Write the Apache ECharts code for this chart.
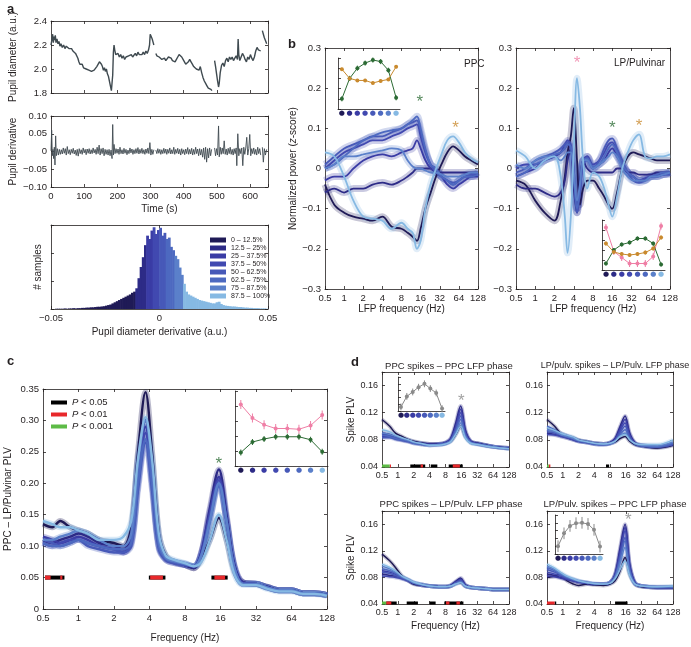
<!DOCTYPE html>
<html>
<head>
<meta charset="utf-8">
<script src="https://cdn.jsdelivr.net/npm/echarts@6/dist/echarts.min.js"></script>
<style>html,body{margin:0;padding:0;background:#fff}#main{width:691px;height:647px}</style>
</head>
<body>
<div id="main"></div>
<script>
// ---- colours (8 pupil-derivative octiles, dark -> light)
const blues = ['#1f1a56', '#2d2b87', '#3a3ca5', '#4149b0', '#4759b8', '#4d69c0', '#5b80ca', '#86b9e3'];
const octileNames = ['0 – 12.5%', '12.5 – 25%', '25 – 37.5%', '37.5 – 50%', '50 – 62.5%', '62.5 – 75%', '75 – 87.5%', '87.5 – 100%'];
const GREEN = '#2c6b34', ORANGE = '#c98a2e', PINK = '#ef7fa6', GRAY = '#8a8a8a';

// ---- panel a : pupil trace (time s, diameter a.u.), '-' = gap
const pupilTrace = [[0,2.20],[3,2.25],[5,2.29],[7,2.22],[9,2.27],[11,2.24],[13,2.28],[15,2.22],[18,2.25],[21,2.21],[24,2.23],[27,2.19],[30,2.21],[34,2.18],[38,2.20],[42,2.17],[46,2.19],[50,2.20],[54,2.17],[58,2.16],[62,2.17],[66,2.15],[70,2.14],[74,2.13],[78,2.12],[81,2.09],[84,2.06],[87,2.04],[90,2.03],[94,2.04],[98,2.01],[102,2.02],[106,2.00],[110,2.01],[114,1.99],[118,2.00],[122,1.98],[126,1.97],[130,1.99],[134,1.98],[138,2.02],[142,2.03],[146,2.06],[149,2.07],[152,2.04],[155,2.02],[158,1.99],[161,2.01],[164,1.98],[167,2.00],[170,1.96],[173,1.94],[176,1.90],[179,1.86],[182,1.82],[184,1.81],[186,1.95],[188,2.14],[190,2.20],[192,2.16],[195,2.12],[198,2.11],[202,2.13],[206,2.10],[210,2.12],[214,2.09],[218,2.11],[222,2.08],[226,2.10],[230,2.09],[234,2.11],[238,2.10],[242,2.12],[246,2.10],[250,2.11],[254,2.13],[258,2.11],[262,2.14],[266,2.12],[270,2.13],[274,2.12],[278,2.14],[282,2.12],[286,2.15],[290,2.13],[294,2.16],[297,2.20],[299,2.29],[302,2.27],[305,2.25],[308,2.22],[310,2.20],[312,'-'],[316,2.13],[319,2.11],[322,2.12],[326,2.10],[330,2.11],[334,2.08],[338,2.07],[342,2.09],[346,2.07],[350,2.08],[354,2.10],[358,2.11],[362,2.09],[366,2.07],[370,2.08],[374,2.06],[378,2.08],[382,2.10],[386,2.12],[390,2.13],[394,2.10],[398,2.08],[402,2.07],[406,2.04],[410,2.03],[414,2.06],[418,2.08],[422,2.06],[426,2.04],[430,2.02],[434,2.03],[438,2.00],[442,2.01],[446,1.99],[450,2.02],[454,1.97],[458,1.93],[462,1.90],[466,1.88],[470,1.86],[474,1.84],[478,1.83],[482,1.83],[485,1.82],[487,'-'],[493,2.07],[496,2.02],[499,1.96],[502,1.90],[505,1.85],[507,1.88],[510,1.97],[514,2.03],[518,2.05],[522,2.02],[526,2.07],[530,2.09],[534,2.06],[538,2.10],[542,2.08],[546,2.10],[550,2.07],[554,2.09],[558,2.11],[562,2.08],[564,2.25],[566,2.12],[569,2.07],[573,2.10],[577,2.13],[581,2.11],[585,2.08],[589,2.06],[593,2.10],[597,2.08],[601,2.12],[605,2.09],[609,2.07],[613,2.10],[617,2.15],[621,2.18],[625,2.16],[629,2.17],[632,2.15],[634,'-'],[637,2.32],[640,2.29],[643,2.26],[646,2.24],[650,2.21]];

const pupilDeriv = [[0,0.002],[2,0.06],[4,-0.012],[6,0.006],[8,-0.02],[10,0.012],[12,-0.038],[14,0.044],[16,-0.012],[19,0.008],[22,-0.01],[25,0.006],[28,-0.008],[31,0.005],[34,-0.007],[37,0.01],[40,-0.005],[43,0.008],[46,-0.01],[49,0.014],[52,-0.006],[55,0.005],[58,-0.009],[61,0.006],[64,-0.005],[67,0.009],[70,-0.007],[73,0.004],[76,-0.011],[79,0.006],[82,-0.013],[85,0.008],[88,-0.006],[91,0.005],[94,-0.008],[97,0.01],[100,-0.004],[103,0.006],[106,-0.009],[109,0.007],[112,-0.005],[115,0.008],[118,-0.007],[121,0.005],[124,-0.006],[127,0.01],[130,-0.004],[133,0.006],[136,-0.008],[139,0.012],[142,-0.006],[145,0.018],[148,-0.01],[151,0.008],[154,-0.006],[157,0.01],[160,-0.012],[163,0.006],[166,-0.008],[169,0.005],[172,-0.01],[175,0.006],[178,-0.012],[181,0.004],[184,-0.02],[186,0.076],[188,-0.01],[190,0.02],[193,-0.006],[196,0.008],[199,-0.005],[202,0.007],[205,-0.008],[208,0.012],[211,-0.006],[214,0.005],[217,-0.007],[220,0.009],[223,-0.005],[226,0.006],[229,-0.009],[232,0.004],[235,-0.006],[238,0.01],[241,-0.004],[244,0.007],[247,-0.008],[250,0.005],[253,-0.006],[256,0.008],[259,-0.005],[262,0.011],[265,-0.007],[268,0.006],[271,-0.005],[274,0.009],[277,-0.006],[280,0.005],[283,-0.008],[286,0.007],[289,-0.005],[292,0.01],[295,-0.006],[298,0.025],[301,-0.01],[304,0.006],[307,-0.008],[310,0.005],[313,'-'],[316,0.004],[319,-0.006],[322,0.008],[325,-0.005],[328,0.006],[331,-0.008],[334,0.005],[337,-0.006],[340,0.009],[343,-0.005],[346,0.007],[349,-0.008],[352,0.006],[355,-0.005],[358,0.01],[361,-0.007],[364,0.005],[367,-0.006],[370,0.012],[373,-0.008],[376,0.006],[379,-0.005],[382,0.009],[385,-0.007],[388,0.006],[391,-0.01],[394,0.008],[397,-0.006],[400,0.005],[403,-0.009],[406,0.007],[409,-0.006],[412,0.011],[415,-0.008],[418,0.006],[421,-0.007],[424,0.009],[427,-0.01],[430,0.006],[433,-0.008],[436,0.012],[439,-0.006],[442,0.007],[445,-0.012],[448,0.008],[451,-0.01],[454,0.006],[457,-0.016],[460,0.01],[463,-0.022],[466,0.012],[469,-0.03],[472,0.008],[475,-0.018],[478,0.01],[481,-0.012],[484,0.006],[487,'-'],[493,0.01],[496,-0.012],[499,0.008],[502,-0.01],[505,0.072],[507,-0.015],[510,0.012],[513,-0.008],[516,0.01],[519,-0.006],[522,0.03],[525,-0.008],[528,0.007],[531,-0.01],[534,0.009],[537,-0.006],[540,0.012],[543,-0.008],[546,0.006],[549,-0.01],[552,0.008],[555,-0.006],[558,0.01],[560,-0.04],[563,0.05],[566,-0.012],[569,0.008],[572,-0.006],[575,0.01],[578,-0.04],[581,0.012],[584,-0.008],[587,0.01],[590,0.04],[593,-0.01],[596,0.008],[599,0.048],[602,-0.012],[605,0.008],[608,-0.006],[611,0.01],[614,-0.008],[617,0.006],[620,-0.01],[623,0.012],[626,-0.006],[629,0.008],[632,-0.01],[634,'-'],[637,0.012],[640,-0.03],[643,0.008],[646,-0.01],[650,0.006]];

// histogram of pupil derivative: 100 bins of 0.001 starting at -0.05
const histStart = -0.05, histStep = 0.001;
const histCounts = [0,0,1,1,1,1,2,1,2,2,3,2,3,3,4, 4,5,5,6,6,7,8,8,9,10, 12,14,16,20,24,28,32,36, 40,44,48,52,58,62,
  74,110,150,185,228,262,250,280,292,268,282,290,262,272,250,255,222,210,190,178,148,122,
  90,62,52,48,44,40,36,32,30,28,26,24,22,20,20,24,26,18,
  14,12,11,10,9,9,8,7,7,6,5,5,4,4,3,3,3,2,2,2,1];
const octileEdges = [-0.0109, -0.0061, -0.003, -0.0002, 0.0032, 0.007, 0.0113];

// ---- panel b : normalized LFP power (z-score)
const freqPPC = [0.5,0.7,1,1.4,2,2.8,4,5.6,8,10,12,14,16,19,23,28,34,42,52,64,80,100,128];
const powPPC = [
  [-0.04,-0.09,-0.11,-0.12,-0.125,-0.13,-0.12,-0.145,-0.15,-0.16,-0.17,-0.18,-0.15,-0.1,-0.06,-0.02,0.01,0.04,0.055,0.045,0.03,0.02,0.01],
  [-0.06,-0.05,-0.06,-0.05,-0.05,-0.04,-0.035,-0.04,-0.03,-0.02,-0.01,0,0,0,0,-0.01,-0.01,-0.01,-0.01,-0.01,-0.01,-0.01,-0.01],
  [-0.03,-0.02,-0.02,0.0,0.02,0.03,0.035,0.03,0.04,0.045,0.05,0.07,0.05,0.02,0.0,-0.01,-0.02,-0.04,-0.05,-0.04,-0.03,-0.02,-0.02],
  [0.0,0.02,0.04,0.05,0.06,0.07,0.07,0.08,0.09,0.1,0.105,0.11,0.08,0.04,0.01,0.0,-0.02,-0.03,-0.04,-0.03,-0.02,-0.02,-0.01],
  [0.01,0.03,0.05,0.06,0.07,0.08,0.08,0.09,0.1,0.11,0.115,0.12,0.09,0.045,0.01,-0.01,-0.02,-0.03,-0.035,-0.03,-0.02,-0.015,-0.01],
  [0.0,0.01,0.03,0.05,0.07,0.08,0.09,0.095,0.1,0.11,0.12,0.13,0.1,0.05,0.01,0.0,-0.02,-0.03,-0.04,-0.03,-0.02,-0.02,-0.015],
  [0.0,0.01,0.03,0.03,0.035,0.04,0.045,0.05,0.045,0.02,0.005,0.0,0.0,-0.005,-0.01,-0.01,-0.015,-0.02,-0.02,-0.02,-0.015,-0.01,-0.01],
  [0.04,0.03,-0.02,-0.08,-0.12,-0.125,-0.13,-0.15,-0.135,-0.15,-0.16,-0.2,-0.18,-0.1,-0.04,0.0,0.035,0.07,0.08,0.065,0.04,0.025,0.015]
];
const freqLP = [0.5,0.7,1,1.4,2,2.5,2.9,3.2,3.6,4,4.5,5,5.6,6.5,8,10,12,14,16,19,23,28,34,42,52,64,80,100,128];
const powLP = [
  [-0.03,-0.04,-0.08,-0.11,-0.13,-0.08,-0.02,0.04,0.08,0.15,0.02,-0.09,-0.05,-0.03,-0.03,-0.05,-0.07,-0.09,-0.1,-0.06,0.0,0.03,0.04,0.035,0.03,0.025,0.02,0.02,0.02],
  [-0.04,-0.05,-0.05,-0.06,-0.07,-0.06,-0.03,0.02,0.05,-0.05,-0.11,-0.03,0.02,0.0,-0.01,-0.01,-0.01,-0.01,-0.01,0.0,0.0,-0.01,-0.01,-0.015,-0.015,-0.015,-0.01,-0.01,-0.01],
  [-0.02,-0.01,0.0,0.02,0.03,0.04,0.05,0.06,0.05,-0.02,-0.1,-0.06,0.02,0.03,0.0,0.01,0.02,0.04,0.05,0.03,0.01,-0.01,-0.02,-0.03,-0.025,-0.02,-0.015,-0.015,-0.01],
  [0.0,0.01,0.01,0.02,0.03,0.04,0.06,0.07,0.06,0.0,-0.1,-0.05,0.02,0.03,0.01,0.02,0.04,0.06,0.065,0.04,0.01,-0.01,-0.02,-0.03,-0.025,-0.02,-0.02,-0.015,-0.01],
  [-0.01,0.0,0.02,0.03,0.04,0.05,0.06,0.065,0.05,-0.02,-0.11,-0.06,0.01,0.02,0.0,0.02,0.05,0.07,0.075,0.05,0.02,-0.01,-0.03,-0.035,-0.03,-0.02,-0.02,-0.015,-0.015],
  [-0.02,-0.01,0.01,0.02,0.035,0.04,0.05,0.06,0.055,-0.01,-0.1,-0.05,0.02,0.025,0.005,0.01,0.03,0.05,0.06,0.04,0.01,-0.01,-0.02,-0.03,-0.03,-0.02,-0.015,-0.01,-0.01],
  [0.01,0.0,0.02,0.03,0.03,0.02,0.03,0.04,0.04,-0.01,-0.08,-0.04,0.02,0.02,0.0,0.01,0.02,0.03,0.04,0.03,0.0,-0.02,-0.03,-0.03,-0.03,-0.02,-0.02,-0.015,-0.01],
  [0.045,0.03,0.0,0.02,0.03,-0.02,-0.12,-0.21,-0.12,0.05,0.225,0.15,0.02,-0.05,-0.01,-0.02,-0.05,-0.09,-0.12,-0.07,0.0,0.04,0.07,0.085,0.03,0.025,0.03,0.03,0.035]
];
// inset values (relative units) and error bars
const insPPCGreen = [0.2,0.6,0.8,0.9,0.96,0.93,0.76,0.22];
const insPPCOrange = [0.78,0.6,0.56,0.56,0.51,0.55,0.58,0.83];
const insLPPink = [0.85,0.37,0.25,0.13,0.13,0.13,0.27,0.88];
const insLPGreen = [0.13,0.4,0.51,0.55,0.63,0.63,0.53,0.11];
const insLPOrange = [0.53,0.36,0.32,0.3,0.32,0.35,0.43,0.65];
const starsPPC = {green: [[15.5, 0.175]], orange: [[57, 0.11]]};
const starsLP = {pink: [[4.5, 0.272]], green: [[16, 0.11]], orange: [[42, 0.115]]};

// ---- panel c : PPC - LP/Pulvinar PLV
const freqC = [0.5,0.6,0.7,0.85,1,1.2,1.5,2,2.4,2.8,3.2,3.7,4.2,4.8,5.5,6.5,8,9.5,11,13,15.5,18,21,25,32,40,50,64,80,100,128];
const plvC = [
  [0.135,0.13,0.14,0.13,0.125,0.12,0.11,0.105,0.1,0.13,0.25,0.345,0.25,0.12,0.085,0.075,0.07,0.065,0.08,0.11,0.145,0.11,0.06,0.042,0.04,0.035,0.03,0.03,0.025,0.025,0.022],
  [0.11,0.105,0.11,0.115,0.12,0.115,0.105,0.1,0.095,0.12,0.24,0.3,0.22,0.11,0.08,0.075,0.07,0.065,0.09,0.16,0.222,0.15,0.07,0.042,0.04,0.035,0.03,0.03,0.025,0.025,0.022],
  [0.115,0.11,0.105,0.11,0.115,0.11,0.1,0.095,0.09,0.11,0.22,0.29,0.21,0.1,0.08,0.075,0.07,0.068,0.09,0.155,0.21,0.145,0.068,0.042,0.04,0.035,0.03,0.03,0.025,0.025,0.022],
  [0.105,0.1,0.105,0.11,0.11,0.105,0.1,0.095,0.09,0.105,0.2,0.28,0.2,0.1,0.078,0.073,0.07,0.068,0.088,0.15,0.205,0.14,0.065,0.04,0.04,0.034,0.03,0.03,0.025,0.025,0.022],
  [0.11,0.105,0.1,0.105,0.11,0.1,0.095,0.09,0.09,0.1,0.19,0.265,0.19,0.095,0.078,0.073,0.07,0.068,0.085,0.145,0.2,0.14,0.065,0.04,0.04,0.034,0.03,0.03,0.025,0.025,0.022],
  [0.105,0.1,0.1,0.105,0.11,0.105,0.1,0.095,0.095,0.105,0.2,0.27,0.2,0.1,0.08,0.075,0.072,0.068,0.085,0.14,0.195,0.14,0.065,0.04,0.04,0.034,0.03,0.03,0.025,0.025,0.022],
  [0.11,0.11,0.115,0.12,0.125,0.12,0.11,0.1,0.1,0.12,0.23,0.3,0.23,0.11,0.082,0.076,0.072,0.068,0.085,0.14,0.2,0.14,0.065,0.04,0.04,0.034,0.03,0.03,0.025,0.025,0.022],
  [0.14,0.135,0.13,0.13,0.125,0.12,0.11,0.11,0.115,0.14,0.24,0.305,0.24,0.12,0.085,0.078,0.073,0.068,0.075,0.11,0.15,0.11,0.055,0.038,0.038,0.032,0.028,0.028,0.024,0.024,0.021]
];
const sigC = {black: [[0.52,0.76],[3.95,5.46],[13.4,18.4]], red: [[0.52,0.58],[0.70,0.73],[4.05,5.2],[14.2,17.5]]};
const insCPink = [0.82,0.64,0.55,0.5,0.5,0.49,0.54,0.68];
const insCGreen = [0.18,0.32,0.36,0.39,0.39,0.39,0.35,0.19];
const starsC = {pink: [[3.7, 0.375]], green: [[15.5, 0.237]]};

// ---- panel d : spike PLV
const freqD = [0.5,0.7,0.9,1.2,1.6,2,3,4,6,8,10,12.5,15.5,19,24,32,64,128];
const plvD1 = [
  [0.11,0.1,0.09,0.085,0.08,0.078,0.075,0.074,0.074,0.075,0.078,0.088,0.1,0.085,0.077,0.075,0.07,0.068],
  [0.09,0.088,0.085,0.082,0.08,0.077,0.075,0.074,0.074,0.076,0.082,0.105,0.13,0.095,0.078,0.075,0.07,0.068],
  [0.088,0.087,0.084,0.08,0.078,0.076,0.074,0.073,0.074,0.076,0.081,0.1,0.125,0.092,0.078,0.075,0.07,0.068],
  [0.085,0.085,0.082,0.08,0.078,0.076,0.074,0.073,0.073,0.075,0.08,0.098,0.12,0.09,0.077,0.074,0.07,0.068],
  [0.083,0.083,0.081,0.079,0.077,0.075,0.073,0.072,0.073,0.075,0.079,0.095,0.115,0.088,0.077,0.074,0.07,0.067],
  [0.087,0.085,0.082,0.08,0.078,0.075,0.073,0.072,0.073,0.075,0.079,0.093,0.11,0.087,0.076,0.074,0.07,0.067],
  [0.09,0.088,0.085,0.082,0.079,0.076,0.074,0.072,0.073,0.074,0.078,0.09,0.105,0.085,0.076,0.074,0.07,0.067],
  [0.095,0.092,0.087,0.083,0.08,0.077,0.074,0.072,0.072,0.074,0.077,0.088,0.1,0.083,0.075,0.073,0.069,0.067]
];
const plvD2 = [
  [0.11,0.1,0.09,0.086,0.083,0.08,0.077,0.075,0.074,0.075,0.077,0.082,0.085,0.078,0.073,0.071,0.068,0.072],
  [0.09,0.088,0.086,0.083,0.08,0.078,0.076,0.075,0.074,0.076,0.082,0.1,0.115,0.09,0.076,0.072,0.07,0.074],
  [0.095,0.092,0.088,0.085,0.082,0.079,0.077,0.075,0.074,0.076,0.081,0.097,0.11,0.088,0.075,0.072,0.07,0.074],
  [0.088,0.087,0.085,0.083,0.08,0.078,0.076,0.074,0.073,0.075,0.08,0.094,0.105,0.086,0.075,0.072,0.069,0.073],
  [0.092,0.09,0.087,0.084,0.081,0.078,0.076,0.074,0.073,0.075,0.079,0.091,0.1,0.084,0.074,0.071,0.069,0.073],
  [0.1,0.095,0.09,0.086,0.082,0.079,0.076,0.074,0.073,0.074,0.078,0.088,0.095,0.082,0.074,0.071,0.07,0.075],
  [0.095,0.092,0.088,0.085,0.082,0.079,0.077,0.075,0.074,0.075,0.078,0.086,0.09,0.081,0.074,0.072,0.071,0.077],
  [0.098,0.094,0.09,0.087,0.084,0.08,0.077,0.075,0.074,0.075,0.078,0.085,0.088,0.08,0.075,0.073,0.073,0.08]
];
const plvD3 = [
  [0.115,0.105,0.095,0.082,0.075,0.07,0.068,0.067,0.066,0.066,0.067,0.071,0.072,0.067,0.065,0.064,0.062,0.062],
  [0.085,0.083,0.082,0.079,0.075,0.071,0.068,0.067,0.066,0.066,0.068,0.074,0.079,0.069,0.065,0.064,0.062,0.062],
  [0.09,0.088,0.085,0.08,0.076,0.072,0.069,0.067,0.066,0.066,0.068,0.073,0.077,0.068,0.065,0.064,0.062,0.062],
  [0.082,0.081,0.08,0.078,0.075,0.071,0.068,0.067,0.066,0.066,0.067,0.072,0.076,0.068,0.065,0.064,0.062,0.062],
  [0.088,0.086,0.083,0.079,0.075,0.071,0.068,0.067,0.066,0.066,0.067,0.072,0.075,0.067,0.065,0.064,0.062,0.062],
  [0.093,0.09,0.086,0.08,0.076,0.072,0.069,0.067,0.066,0.066,0.067,0.071,0.074,0.067,0.065,0.064,0.062,0.062],
  [0.097,0.093,0.088,0.081,0.076,0.072,0.069,0.067,0.066,0.066,0.067,0.07,0.073,0.067,0.065,0.064,0.062,0.062],
  [0.1,0.095,0.09,0.082,0.077,0.073,0.069,0.067,0.066,0.066,0.067,0.07,0.072,0.067,0.065,0.064,0.062,0.062]
];
const plvD4 = [
  [0.08,0.082,0.085,0.075,0.07,0.068,0.07,0.069,0.068,0.07,0.075,0.09,0.11,0.085,0.07,0.066,0.065,0.065],
  [0.085,0.083,0.08,0.077,0.075,0.073,0.071,0.07,0.07,0.072,0.085,0.125,0.16,0.1,0.072,0.067,0.065,0.065],
  [0.082,0.081,0.079,0.077,0.075,0.073,0.071,0.07,0.07,0.072,0.084,0.12,0.155,0.098,0.072,0.067,0.065,0.065],
  [0.088,0.085,0.082,0.078,0.075,0.073,0.071,0.07,0.07,0.072,0.083,0.117,0.15,0.096,0.071,0.067,0.065,0.065],
  [0.092,0.088,0.084,0.079,0.076,0.074,0.072,0.07,0.07,0.072,0.082,0.112,0.14,0.093,0.071,0.067,0.065,0.065],
  [0.095,0.09,0.085,0.08,0.077,0.074,0.072,0.07,0.07,0.072,0.081,0.108,0.135,0.09,0.071,0.067,0.065,0.066],
  [0.097,0.092,0.086,0.081,0.077,0.075,0.072,0.071,0.07,0.072,0.08,0.102,0.125,0.088,0.07,0.067,0.066,0.066],
  [0.1,0.094,0.088,0.082,0.078,0.075,0.072,0.071,0.07,0.071,0.078,0.092,0.105,0.083,0.07,0.067,0.066,0.067]
];
const sigD1 = {green: [[0.5,0.7]], red: [[0.7,0.74],[2.7,3.0],[11,15]], black: [[1.72,3.3],[4.2,5.6],[9.2,17]]};
const sigD2 = {green: [[0.5,0.54]], red: [[0.54,0.58]], black: [[6.7,7.7]]};
const sigD3 = {green: [[0.5,0.6]], red: [[0.6,0.75],[8.2,9.5],[12.9,15]], black: [[0.6,0.95],[1.47,2.4],[4.0,5.2],[7.6,17.5]]};
const sigD4 = {red: [[0.5,0.7]], black: [[0.7,0.75],[10,17.3]]};
const insD1 = [0.12,0.43,0.56,0.7,0.8,0.66,0.53,0.07];
const insD4 = [0.2,0.53,0.72,0.79,0.8,0.77,0.62,0.19];
const starsD = {d1: [[16, 0.142]], d4: [[18, 0.172]]};

// ---------------------------------------------------------------
const FONT = '"Liberation Sans", Arial, sans-serif';
const INK = '#231f20';
const grid = [], xAxis = [], yAxis = [], series = [];

function signed(dec) {
  return v => Math.abs(v) < 1e-9 ? '0' : (v < 0 ? '−' : '') + Math.abs(v).toFixed(dec);
}
function stepOnly(step, f) {
  return v => Math.abs(v / step - Math.round(v / step)) < 1e-6 ? f(v) : '';
}
const logFmt = v => String(+(+v).toPrecision(3));
const dotRich = {};
blues.forEach((c, i) => { dotRich['d' + i] = {color: c, fontSize: 7, fontFamily: 'DejaVu Sans'}; });
const dotFmt = (v, i) => '{d' + i + '|●}';

function mkAxis(gi, pos, o, primary) {
  return {
    gridIndex: gi, position: pos, type: o.type || 'value',
    min: o.min, max: o.max, interval: o.interval, logBase: o.logBase, splitNumber: o.splitNumber,
    data: o.data, boundaryGap: o.boundaryGap,
    axisLine: {show: true, onZero: false, lineStyle: {color: INK, width: 0.8}},
    axisTick: {show: o.ticks !== false, inside: true, length: 3, lineStyle: {color: INK, width: 0.8}},
    axisLabel: {show: primary && o.labels !== false, formatter: o.fmt, fontFamily: FONT, interval: o.labelInterval,
      fontSize: o.fs || 9.5, color: INK, margin: o.margin || 4, rich: o.rich},
    splitLine: {show: false},
    name: primary ? o.name : '', nameLocation: 'middle', nameGap: o.nameGap || 20,
    nameTextStyle: {fontFamily: FONT, fontSize: 10, color: INK, rich: o.nameRich},
    silent: true
  };
}
function addFrame(rect, xo, yo, mirror) {
  const gi = grid.length;
  grid.push({left: rect[0], top: rect[1], width: rect[2], height: rect[3]});
  const xi = xAxis.length, yi = yAxis.length;
  xAxis.push(mkAxis(gi, 'bottom', xo, true));
  yAxis.push(mkAxis(gi, 'left', yo, true));
  if (mirror !== false) {
    xAxis.push(mkAxis(gi, 'top', xo, false));
    yAxis.push(mkAxis(gi, 'right', yo, false));
  }
  return {xi, yi};
}
function logX(labels, name, gap, fs) {
  return {type: 'log', logBase: 2, min: 0.5, max: 128, splitNumber: 8, fmt: logFmt, labels, name, nameGap: gap, fs};
}
function lineS(f, xs, ys, color, w, extra) {
  return Object.assign({
    type: 'line', xAxisIndex: f.xi, yAxisIndex: f.yi, data: xs.map((x, i) => [x, ys[i]]),
    showSymbol: false, smooth: 0.35, connectNulls: false, lineStyle: {color, width: w}, itemStyle: {color},
    silent: true, z: 3
  }, extra || {});
}
function bandS(f, xs, ys, color, w, op) {
  return lineS(f, xs, ys, color, w, {lineStyle: {color, width: w, opacity: op}, z: 2});
}
function starS(f, pts, color) {
  return {type: 'scatter', xAxisIndex: f.xi, yAxisIndex: f.yi, data: pts, symbol: 'circle', symbolSize: 1,
    itemStyle: {color: 'rgba(0,0,0,0)'}, silent: true, z: 6,
    label: {show: true, position: 'inside', formatter: '*', color, fontSize: 17, fontFamily: FONT, offset: [0, 4]}};
}
function sigS(f, name, color, ivals, y, h) {
  return {type: 'custom', name, xAxisIndex: f.xi, yAxisIndex: f.yi, itemStyle: {color}, clip: false, z: 5,
    data: ivals.map(iv => [iv[0], iv[1], y]), encode: {x: [0, 1], y: 2},
    renderItem: (p, api) => {
      const a = api.coord([api.value(0), api.value(2)]);
      const b = api.coord([api.value(1), api.value(2)]);
      return {type: 'rect', shape: {x: a[0], y: a[1] - h / 2, width: b[0] - a[0], height: h}, style: {fill: color}};
    }};
}
function errS(f, vals, err, color) {
  return {type: 'custom', xAxisIndex: f.xi, yAxisIndex: f.yi, z: 6, silent: true,
    data: vals.map((v, i) => [i, v, err]), encode: {x: 0, y: 1},
    renderItem: (p, api) => {
      const t = api.coord([api.value(0), api.value(1) + api.value(2)]);
      const b = api.coord([api.value(0), api.value(1) - api.value(2)]);
      return {type: 'line', shape: {x1: t[0], y1: t[1], x2: b[0], y2: b[1]}, style: {stroke: color, lineWidth: 1}};
    }};
}
function insetS(f, vals, color) {
  return {type: 'line', xAxisIndex: f.xi, yAxisIndex: f.yi, data: vals, symbol: 'circle', symbolSize: 4,
    lineStyle: {color, width: 1}, itemStyle: {color}, silent: true, z: 7};
}
const insetX = {type: 'category', data: ['1', '2', '3', '4', '5', '6', '7', '8'], boundaryGap: true, ticks: false,
  fmt: dotFmt, rich: dotRich, margin: 1, labelInterval: 0, fs: 7};
const insetY = {min: 0, max: 1, interval: 0.2, labels: false};

// ---- panel a
const a1 = addFrame([51, 21, 217, 72],
  {min: 0, max: 654, interval: 100, labels: false},
  {min: 1.8, max: 2.4, interval: 0.2, fmt: v => v.toFixed(1), name: 'Pupil diameter (a.u.)', nameGap: 33});
series.push({type: 'line', xAxisIndex: a1.xi, yAxisIndex: a1.yi, data: pupilTrace, showSymbol: false,
  lineStyle: {color: '#3f4a50', width: 1.4}, silent: true});
const a2 = addFrame([51, 116, 217, 71],
  {min: 0, max: 654, interval: 100, fmt: stepOnly(100, v => String(Math.round(v))), name: 'Time (s)', nameGap: 17},
  {min: -0.1, max: 0.1, interval: 0.05, fmt: signed(2), name: 'Pupil derivative', nameGap: 33});
series.push({type: 'line', xAxisIndex: a2.xi, yAxisIndex: a2.yi, data: pupilDeriv, showSymbol: false,
  lineStyle: {color: '#3f4a50', width: 0.9}, silent: true});
const a3 = addFrame([51, 225, 217, 84],
  {min: -0.05, max: 0.05, interval: 0.05, fmt: signed(2), name: 'Pupil diameter derivative (a.u.)', nameGap: 18},
  {min: 0, max: 300, interval: 100, labels: false, name: '# samples', nameGap: 8});
const histBins = blues.map(() => []);
histCounts.forEach((n, i) => {
  const c = histStart + histStep * (i + 0.5);
  let k = 0;
  while (k < octileEdges.length && c > octileEdges[k]) k++;
  histBins[k].push([c, n]);
});
histBins.forEach((d, k) => series.push({type: 'bar', name: octileNames[k], xAxisIndex: a3.xi, yAxisIndex: a3.yi,
  data: d, barWidth: 2.8, barGap: '-100%', itemStyle: {color: blues[k]}, silent: true}));

// ---- panel b
const b1 = addFrame([325, 48, 153, 241], logX(true, 'LFP frequency (Hz)', 13),
  {min: -0.3, max: 0.3, interval: 0.1, fmt: signed(1), name: 'Normalized power ({i|z}-score)', nameGap: 27,
   nameRich: {i: {fontStyle: 'italic', fontFamily: FONT, fontSize: 10, color: INK}}});
const b2 = addFrame([516, 48, 154, 241], logX(true, 'LFP frequency (Hz)', 13),
  {min: -0.3, max: 0.3, interval: 0.1, fmt: signed(1)});
powPPC.forEach((ys, k) => {
  series.push(bandS(b1, freqPPC, ys, blues[k], 7, 0.25));
  series.push(lineS(b1, freqPPC, ys, blues[k], 1.8));
});
powLP.forEach((ys, k) => {
  series.push(bandS(b2, freqLP, ys, blues[k], 7, 0.25));
  series.push(lineS(b2, freqLP, ys, blues[k], 1.8));
});
series.push(starS(b1, starsPPC.green, GREEN), starS(b1, starsPPC.orange, ORANGE));
series.push(starS(b2, starsLP.pink, PINK), starS(b2, starsLP.green, GREEN), starS(b2, starsLP.orange, ORANGE));
const bi1 = addFrame([338, 58, 62, 51], insetX, insetY, false);
series.push(insetS(bi1, insPPCGreen, GREEN), errS(bi1, insPPCGreen, 0.05, GREEN));
series.push(insetS(bi1, insPPCOrange, ORANGE), errS(bi1, insPPCOrange, 0.03, ORANGE));
const bi2 = addFrame([602, 220, 63, 50], insetX, insetY, false);
series.push(insetS(bi2, insLPPink, PINK), errS(bi2, insLPPink, 0.07, PINK));
series.push(insetS(bi2, insLPGreen, GREEN), errS(bi2, insLPGreen, 0.04, GREEN));
series.push(insetS(bi2, insLPOrange, ORANGE), errS(bi2, insLPOrange, 0.04, ORANGE));

// ---- panel c
const c1 = addFrame([43, 389, 284, 220], logX(true, 'Frequency (Hz)', 24),
  {min: 0, max: 0.35, interval: 0.05, fmt: signed(2), name: 'PPC – LP/Pulvinar PLV', nameGap: 30});
plvC.forEach((ys, k) => {
  series.push(bandS(c1, freqC, ys, blues[k], 6, 0.3));
  series.push(lineS(c1, freqC, ys, blues[k], 2.4));
});
series.push(sigS(c1, 'P < 0.05', '#000000', sigC.black, 0.05, 4));
series.push(sigS(c1, 'P < 0.01', '#e8282b', sigC.red, 0.05, 4));
series.push(starS(c1, starsC.pink, PINK), starS(c1, starsC.green, GREEN));
const ci = addFrame([235, 391, 93, 75], insetX, insetY, false);
series.push(insetS(ci, insCPink, PINK), errS(ci, insCPink, 0.06, PINK));
series.push(insetS(ci, insCGreen, GREEN), errS(ci, insCGreen, 0.04, GREEN));

// ---- panel d
const dY = (name) => ({min: 0.04, max: 0.18, interval: 0.04, fmt: stepOnly(0.04, v => v.toFixed(2)), name, nameGap: 26, fs: 9});
const d1 = addFrame([382, 372, 127, 95], logX(true, '', 10, 9), dY('Spike PLV'));
const d2 = addFrame([547, 372, 126, 95], logX(true, '', 10, 9), dY(''));
const d3 = addFrame([382, 511, 127, 93], logX(true, 'Frequency (Hz)', 17, 9), dY('Spike PLV'));
const d4 = addFrame([547, 511, 126, 93], logX(true, 'Frequency (Hz)', 17, 9), dY(''));
[[d1, plvD1, sigD1], [d2, plvD2, sigD2], [d3, plvD3, sigD3], [d4, plvD4, sigD4]].forEach(([f, curves, sig]) => {
  curves.forEach((ys, k) => {
    series.push(bandS(f, freqD, ys, blues[k], 4, 0.25));
    series.push(lineS(f, freqD, ys, blues[k], 1.5));
  });
  if (sig.black) series.push(sigS(f, 'P < 0.05', '#000000', sig.black, 0.0415, 3));
  if (sig.red) series.push(sigS(f, 'P < 0.01', '#e8282b', sig.red, 0.0415, 3));
  if (sig.green) series.push(sigS(f, 'P < 0.001', '#5dbb46', sig.green, 0.0415, 3));
});
series.push(starS(d1, starsD.d1, GRAY), starS(d4, starsD.d4, GRAY));
const di1 = addFrame([398, 377, 47, 34], insetX, insetY, false);
series.push(insetS(di1, insD1, GRAY), errS(di1, insD1, 0.1, GRAY));
const di4 = addFrame([555, 515, 48, 39], insetX, insetY, false);
series.push(insetS(di4, insD4, GRAY), errS(di4, insD4, 0.15, GRAY));

// ---- texts
const tStyle = (fs, bold) => ({fontFamily: FONT, fontSize: fs, color: INK, fontWeight: bold ? 'bold' : 'normal'});
const title = [
  {text: 'a', left: 2, top: -2, textStyle: tStyle(13, true)},
  {text: 'b', left: 283, top: 33, textStyle: tStyle(13, true)},
  {text: 'c', left: 2, top: 350, textStyle: tStyle(13, true)},
  {text: 'd', left: 346, top: 351, textStyle: tStyle(13, true)},
  {text: 'PPC', left: 459, top: 54, textStyle: tStyle(10)},
  {text: 'LP/Pulvinar', left: 609, top: 53, textStyle: tStyle(10)},
  {text: 'PPC spikes – PPC LFP phase', left: 444, top: 356, textAlign: 'center', textStyle: tStyle(9.5)},
  {text: 'LP/pulv. spikes – LP/Pulv. LFP phase', left: 610, top: 356, textAlign: 'center', textStyle: tStyle(9)},
  {text: 'PPC spikes – LP/Pulv. LFP phase', left: 446, top: 494, textAlign: 'center', textStyle: tStyle(9.5)},
  {text: 'LP/Pulv. spikes – PPC LFP phase', left: 610, top: 494, textAlign: 'center', textStyle: tStyle(9.5)}
];
const legend = [
  {data: octileNames, left: 205, top: 231, orient: 'vertical', icon: 'rect', itemWidth: 16, itemHeight: 5, itemGap: 0,
   selectedMode: false, textStyle: {fontFamily: FONT, fontSize: 7, color: INK, lineHeight: 8}},
  {data: ['P < 0.05', 'P < 0.01', 'P < 0.001'], left: 46, top: 392, orient: 'vertical', icon: 'rect',
   itemWidth: 16, itemHeight: 4, itemGap: 1, selectedMode: false,
   formatter: n => '{i|P}{n|' + n.slice(1) + '}',
   textStyle: {fontFamily: FONT, fontSize: 9.5, color: INK, lineHeight: 11,
     rich: {i: {fontStyle: 'italic', fontFamily: FONT, fontSize: 9.5, color: INK}, n: {fontFamily: FONT, fontSize: 9.5, color: INK}}}}
];

const chart = echarts.init(document.getElementById('main'), null, {renderer: 'canvas'});
chart.setOption({animation: false, backgroundColor: '#fff', title, legend, grid, xAxis, yAxis, series, tooltip: {show: false}});
</script>
</body>
</html>
